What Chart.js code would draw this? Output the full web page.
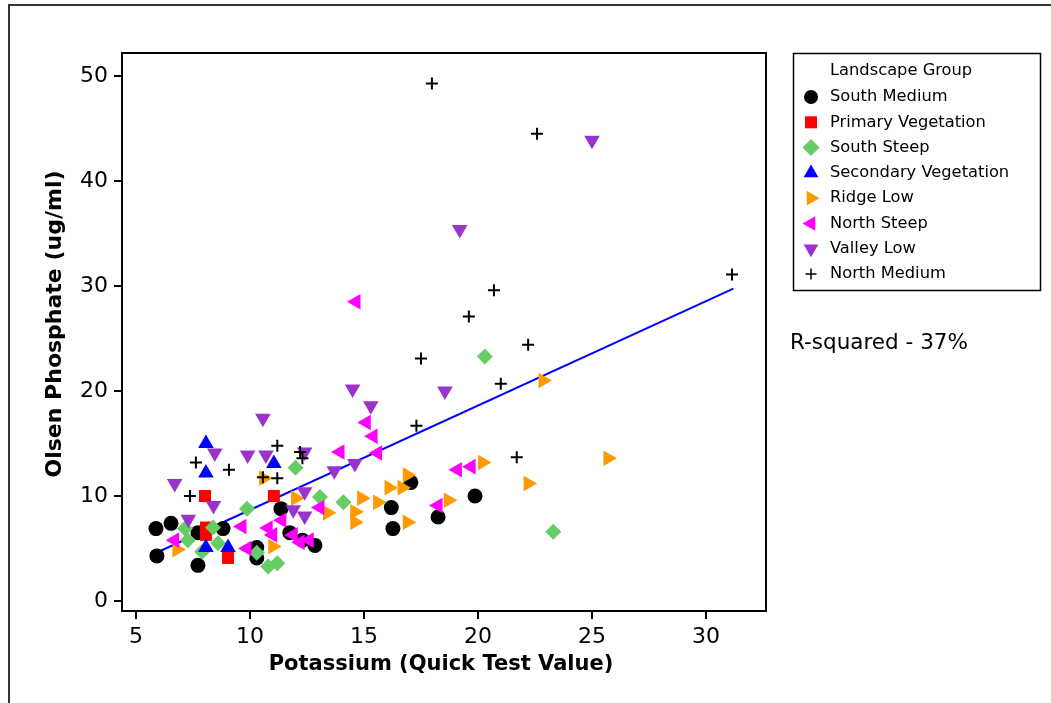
<!DOCTYPE html>
<html>
<head>
<meta charset="utf-8">
<title>Olsen Phosphate vs Potassium</title>
<script src="https://cdn.jsdelivr.net/npm/chart.js@4.4.0/dist/chart.umd.min.js"></script>
<style>
    html, body { margin: 0; padding: 0; background: #fff; }
    #wrap { width: 1051px; height: 703px; position: relative; }
</style>
</head>
<body>
<div id="wrap"><canvas id="scatterChart" width="1051" height="703"></canvas></div>
<script>
// Values
const groupNames = ['South Medium', 'Primary Vegetation', 'South Steep', 'Secondary Vegetation',
    'Ridge Low', 'North Steep', 'Valley Low', 'North Medium'];

const southMediumX = [5.88, 5.92, 6.54, 7.72, 7.72, 8.82, 10.3, 10.3, 11.36, 11.75, 12.3, 12.85, 16.2, 16.27, 17.06, 18.25, 19.87];
const southMediumY = [6.9, 4.3, 7.4, 3.4, 6.5, 6.9, 5.1, 4.1, 8.8, 6.5, 5.8, 5.3, 8.9, 6.9, 11.3, 8.0, 10.0];

const primaryVegX = [8.03, 11.05, 8.07, 8.07, 9.04];
const primaryVegY = [10.0, 10.0, 7.0, 6.3, 4.1];

const southSteepX = [20.3, 23.3, 12.0, 9.87, 13.07, 7.15, 7.28, 8.38, 7.9, 8.6, 10.3, 10.8, 11.2, 14.1];
const southSteepY = [23.3, 6.6, 12.7, 8.8, 9.9, 6.9, 5.8, 7.0, 4.7, 5.5, 4.6, 3.3, 3.6, 9.4];

const secondaryVegX = [8.07, 8.07, 11.05, 8.07, 9.04];
const secondaryVegY = [15.0, 12.2, 13.1, 5.1, 5.1];

const ridgeLowX = [25.7, 22.85, 22.2, 20.2, 18.7, 16.9, 16.9, 16.67, 16.1, 14.9, 15.6, 14.6, 14.6, 13.4, 10.6, 12.0, 11.0, 6.8];
const ridgeLowY = [13.6, 21.0, 11.2, 13.2, 9.6, 12.0, 7.5, 10.8, 10.8, 9.8, 9.4, 8.5, 7.5, 8.4, 11.7, 9.8, 5.2, 4.9];

const northSteepX = [14.65, 15.1, 15.4, 15.6, 13.95, 19.1, 19.7, 18.25, 13.07, 11.4, 10.8, 11.0, 9.65, 9.87, 6.7, 11.9, 12.2, 12.6];
const northSteepY = [28.5, 17.0, 15.7, 14.1, 14.2, 12.5, 12.8, 9.1, 8.9, 7.7, 6.95, 6.3, 7.1, 5.0, 5.8, 6.3, 5.6, 5.8];

const valleyLowX = [25.0, 19.2, 14.5, 15.3, 18.55, 10.57, 8.46, 9.9, 10.7, 12.4, 14.6, 13.7, 6.7, 8.4, 7.3, 11.9, 12.4, 12.4];
const valleyLowY = [43.9, 35.4, 20.2, 18.6, 20.0, 17.4, 14.1, 13.9, 13.9, 14.2, 13.1, 12.4, 11.2, 9.1, 7.8, 8.7, 8.1, 10.4];

const northMediumX = [17.98, 22.59, 31.14, 20.7, 19.6, 22.2, 17.5, 21.0, 17.3, 21.7, 7.63, 9.08, 7.37, 11.2, 12.2, 12.3, 10.57, 11.2];
const northMediumY = [49.3, 44.5, 31.1, 29.6, 27.1, 24.4, 23.1, 20.7, 16.7, 13.7, 13.2, 12.5, 10.0, 14.8, 14.2, 13.6, 11.8, 11.7];

// fitted line end points
const fitX = [5.9, 31.2];
const fitY = [4.6, 29.75];

const xTicks = [5, 10, 15, 20, 25, 30];
const yTicks = [0, 10, 20, 30, 40, 50];

const rSquaredText = 'R-squared - 37%';

// Minitab-like symbol colours
const black = '#000000';
const red = '#FF0000';
const green = '#66CC66';
const blue = '#0000FF';
const orange = '#FF9900';
const magenta = '#FF00FF';
const purple = '#9933CC';

const fontFamily = '"DejaVu Sans", sans-serif';

function toPoints(xs, ys) {
    return xs.map((x, i) => ({ x: x, y: ys[i] }));
}

function group(label, xs, ys, color, style, rotation, radius, order) {
    const isCross = style === 'cross';
    return {
        label: label,
        data: toPoints(xs, ys),
        pointStyle: style,
        rotation: rotation,
        pointRadius: radius,
        backgroundColor: color,
        borderColor: color,
        pointBorderWidth: isCross ? 2 : 0,
        order: order
    };
}

const datasets = [
    group(groupNames[0], southMediumX, southMediumY, black, 'circle', 0, 7.5, 8),
    group(groupNames[1], primaryVegX, primaryVegY, red, 'rect', 0, 8.5, 7),
    group(groupNames[2], southSteepX, southSteepY, green, 'rectRot', 0, 8, 6),
    group(groupNames[3], secondaryVegX, secondaryVegY, blue, 'triangle', 0, 9, 5),
    group(groupNames[4], ridgeLowX, ridgeLowY, orange, 'triangle', 90, 9, 4),
    group(groupNames[5], northSteepX, northSteepY, magenta, 'triangle', 270, 9, 3),
    group(groupNames[6], valleyLowX, valleyLowY, purple, 'triangle', 180, 9, 2),
    group(groupNames[7], northMediumX, northMediumY, black, 'cross', 0, 6, 1),
    {
        type: 'line',
        label: 'Fit',
        data: toPoints(fitX, fitY),
        borderColor: blue,
        borderWidth: 2,
        pointRadius: 0,
        fill: false,
        order: 20
    }
];

// Frame, plot box, axis titles, legend and R-squared text
const decorations = {
    id: 'decorations',
    afterDraw(chart) {
        const ctx = chart.ctx;
        const area = chart.chartArea;
        ctx.save();

        // outer frame
        ctx.strokeStyle = '#333333';
        ctx.lineWidth = 2;
        ctx.beginPath();
        ctx.moveTo(9, 720);
        ctx.lineTo(9, 5);
        ctx.lineTo(1060, 5);
        ctx.stroke();

        // plot box
        ctx.strokeStyle = '#000';
        ctx.lineWidth = 2;
        ctx.strokeRect(area.left, area.top, area.right - area.left, area.bottom - area.top);

        // axis titles
        ctx.fillStyle = '#000';
        ctx.font = 'bold 21px ' + fontFamily;
        ctx.textAlign = 'center';
        ctx.textBaseline = 'middle';
        ctx.fillText('Potassium (Quick Test Value)', 441, 665);
        ctx.save();
        ctx.translate(55, 324);
        ctx.rotate(-Math.PI / 2);
        ctx.font = 'bold 22px ' + fontFamily;
        ctx.fillText('Olsen Phosphate (ug/ml)', 0, 0);
        ctx.restore();

        // legend
        const lx = 793, ly = 53, lw = 247, lh = 237;
        ctx.lineWidth = 1.5;
        ctx.strokeRect(lx + 0.5, ly + 0.5, lw, lh);
        ctx.font = '16.3px ' + fontFamily;
        ctx.textAlign = 'left';
        ctx.fillText('Landscape Group', 830, 71);
        for (let i = 0; i < groupNames.length; i++) {
            const ds = chart.data.datasets[i];
            const y = 97 + i * 25.3;
            ctx.fillStyle = ds.backgroundColor;
            ctx.strokeStyle = ds.borderColor;
            Chart.helpers.drawPoint(ctx, {
                pointStyle: ds.pointStyle,
                rotation: ds.rotation,
                radius: ds.pointStyle === 'cross' ? 5.5 : (ds.pointStyle === 'circle' ? 7 : 8.5),
                borderWidth: ds.pointBorderWidth
            }, 811, y);
            ctx.fillStyle = '#000';
            ctx.fillText(groupNames[i], 830, y);
        }

        // R-squared note
        ctx.font = '21.5px ' + fontFamily;
        ctx.fillText(rSquaredText, 790, 343);
        ctx.restore();
    }
};

new Chart(document.getElementById('scatterChart'), {
    type: 'scatter',
    data: { datasets: datasets },
    options: {
        responsive: false,
        animation: false,
        devicePixelRatio: 1,
        layout: { padding: { left: 0, right: 285, top: 53, bottom: 0 } },
        plugins: {
            legend: { display: false },
            tooltip: { enabled: false }
        },
        scales: {
            x: {
                type: 'linear',
                min: 4.39,
                max: 32.63,
                afterFit: function(scale) { scale.height = 92; },
                afterBuildTicks: function(scale) {
                    scale.ticks = xTicks.map(v => ({ value: v }));
                },
                grid: { drawOnChartArea: false, drawTicks: true, tickLength: 8, color: '#000', lineWidth: 2 },
                border: { display: true, color: '#000', width: 2 },
                ticks: { color: '#000', font: { family: fontFamily, size: 22 }, padding: 5, maxRotation: 0 }
            },
            y: {
                type: 'linear',
                min: -0.95,
                max: 52.2,
                afterFit: function(scale) { scale.width = 122; },
                afterBuildTicks: function(scale) {
                    scale.ticks = yTicks.map(v => ({ value: v }));
                },
                grid: { drawOnChartArea: false, drawTicks: true, tickLength: 8, color: '#000', lineWidth: 2 },
                border: { display: true, color: '#000', width: 2 },
                ticks: { color: '#000', font: { family: fontFamily, size: 22 }, padding: 6 }
            }
        }
    },
    plugins: [decorations]
});
</script>
</body>
</html>
